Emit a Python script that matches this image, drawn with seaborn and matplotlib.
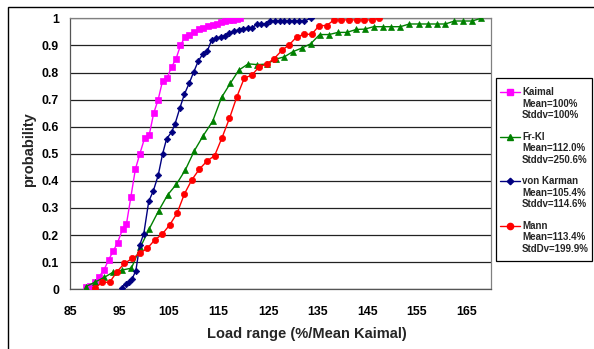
import matplotlib
matplotlib.use("Agg")
import matplotlib.pyplot as plt
import seaborn as sns
import pandas as pd
from matplotlib.lines import Line2D
from matplotlib.patches import Rectangle

# ---------------- data ----------------
kaimal_x = [88.3, 89.1, 90.0, 90.9, 91.9, 92.8, 93.7, 94.6, 95.6, 96.4, 97.3, 98.2,
            99.1, 100.1, 101.0, 101.9, 102.8, 103.7, 104.6, 105.5, 106.4, 107.3,
            108.2, 109.1, 110.1, 111.0, 111.9, 112.9, 113.8, 114.6, 115.4, 116.3,
            117.1, 117.9, 118.7, 119.4]
kaimal_y = [0.01, 0.012, 0.027, 0.047, 0.073, 0.109, 0.14, 0.172, 0.221, 0.241,
            0.342, 0.443, 0.50, 0.56, 0.57, 0.65, 0.70, 0.77, 0.78, 0.82, 0.85,
            0.90, 0.93, 0.94, 0.95, 0.96, 0.965, 0.97, 0.975, 0.98, 0.988, 0.99,
            0.992, 0.995, 0.998, 1.0]

frkl_x = [88.2, 90.0, 91.9, 93.7, 95.5, 97.4, 99.2, 101.0, 102.9, 104.7, 106.5,
          108.3, 110.1, 111.9, 113.8, 115.6, 117.4, 119.1, 121.0, 122.8, 124.7,
          126.5, 128.3, 130.0, 131.8, 133.6, 135.4, 137.3, 139.1, 140.9, 142.8,
          144.5, 146.3, 148.1, 149.9, 151.7, 153.5, 155.4, 157.2, 159.0, 160.8,
          162.6, 164.4, 166.2, 168.0]
frkl_y = [0.01, 0.026, 0.044, 0.063, 0.071, 0.078, 0.155, 0.223, 0.29, 0.348,
          0.388, 0.441, 0.511, 0.567, 0.62, 0.708, 0.761, 0.809, 0.832, 0.829,
          0.831, 0.849, 0.858, 0.877, 0.89, 0.906, 0.94, 0.94, 0.948, 0.948,
          0.959, 0.96, 0.969, 0.969, 0.969, 0.969, 0.979, 0.979, 0.979, 0.979,
          0.979, 0.99, 0.99, 0.99, 1.0]

vk_x = [95.4, 96.3, 96.9, 97.5, 98.3, 99.1, 99.9, 100.9, 101.8, 102.8, 103.7,
        104.5, 105.5, 106.2, 107.2, 108.1, 109.1, 110.0, 110.9, 111.8, 112.7,
        113.6, 114.5, 115.4, 116.3, 117.2, 118.2, 119.1, 120.0, 120.9, 121.8,
        122.7, 123.6, 124.5, 125.4, 126.3, 127.3, 128.3, 129.3, 130.3, 131.3,
        132.3, 133.6]
vk_y = [0.006, 0.02, 0.027, 0.037, 0.069, 0.165, 0.205, 0.325, 0.362, 0.42, 0.50,
        0.555, 0.58, 0.61, 0.67, 0.72, 0.762, 0.803, 0.842, 0.868, 0.878, 0.92,
        0.926, 0.932, 0.935, 0.945, 0.952, 0.958, 0.962, 0.963, 0.965, 0.978,
        0.98, 0.98, 0.99, 0.99, 0.99, 0.99, 0.99, 0.99, 0.99, 0.99, 1.0]

mann_x = [90.0, 91.5, 93.0, 94.5, 96.0, 97.6, 99.1, 100.6, 102.1, 103.6, 105.1,
          106.6, 108.1, 109.6, 111.1, 112.7, 114.2, 115.7, 117.2, 118.7, 120.2,
          121.7, 123.2, 124.7, 126.2, 127.8, 129.3, 130.8, 132.3, 133.8, 135.3,
          136.8, 138.3, 139.8, 141.3, 142.9, 144.4, 145.9, 147.4]
mann_y = [0.004, 0.026, 0.026, 0.065, 0.096, 0.114, 0.133, 0.151, 0.182, 0.203,
          0.237, 0.28, 0.352, 0.404, 0.443, 0.474, 0.493, 0.56, 0.631, 0.711,
          0.78, 0.79, 0.821, 0.831, 0.851, 0.882, 0.903, 0.932, 0.941, 0.941,
          0.973, 0.973, 0.994, 0.994, 0.994, 0.994, 0.994, 0.994, 1.0]

series_names = ["Kaimal", "Fr-Kl", "von Karman", "Mann"]
series_stats = [["Mean=100%", "Stddv=100%"],
                ["Mean=112.0%", "Stddv=250.6%"],
                ["Mean=105.4%", "Stddv=114.6%"],
                ["Mean=113.4%", "StdDv=199.9%"]]
x_ticks = [85, 95, 105, 115, 125, 135, 145, 155, 165]
y_ticks = [0, 0.1, 0.2, 0.3, 0.4, 0.5, 0.6, 0.7, 0.8, 0.9, 1]
y_ticklabels = ["0", "0.1", "0.2", "0.3", "0.4", "0.5", "0.6", "0.7", "0.8", "0.9", "1"]
x_label = "Load range (%/Mean Kaimal)"
y_label = "probability"

# ---------------- style ----------------
sns.set_style("white")
plt.rcParams["font.family"] = ["Liberation Sans", "DejaVu Sans"]
plt.rcParams["font.weight"] = "bold"

colors = ["#FF00FF", "#008000", "#000080", "#FF0000"]
markers = ["s", "^", "D", "o"]
msizes = [4.0, 4.5, 3.3, 4.5]

W, H = 594, 349
fig = plt.figure(figsize=(W / 100, H / 100), dpi=100)
left, right, top, bottom = 70, 491, 18.3, 289.3
ax = fig.add_axes([left / W, 1 - bottom / H, (right - left) / W, (bottom - top) / H])


def fx(px):
    return px / W


def fy(py):
    return 1 - py / H


# outer chart border
fig.add_artist(Rectangle((fx(8), -0.1), 1.2, fy(7) + 0.1, transform=fig.transFigure,
                         fill=False, edgecolor="black", linewidth=1.0))

frames = []
for name, xs, ys in [("Kaimal", kaimal_x, kaimal_y), ("Fr-Kl", frkl_x, frkl_y),
                     ("von Karman", vk_x, vk_y), ("Mann", mann_x, mann_y)]:
    frames.append(pd.DataFrame({"x": xs, "y": ys, "series": name}))
df = pd.concat(frames, ignore_index=True)

for name, c, m, ms in zip(series_names, colors, markers, msizes):
    sub = df[df["series"] == name]
    sns.lineplot(data=sub, x="x", y="y", ax=ax, color=c, marker=m, markersize=ms,
                 markeredgecolor=c, markeredgewidth=0.5, linewidth=1.0, sort=False,
                 estimator=None, legend=False, zorder=3)

ax.set_xlim(85, 170)
ax.set_ylim(0, 1)
ax.set_xticks(x_ticks)
ax.set_yticks(y_ticks)
ax.set_yticklabels(y_ticklabels)
ax.tick_params(axis="both", labelsize=8.8, direction="out", length=4, width=0.8,
               colors="black")
ax.tick_params(axis="x", pad=8)
ax.tick_params(axis="y", pad=4)
for lab in ax.get_xticklabels() + ax.get_yticklabels():
    lab.set_fontweight("bold")
ax.grid(axis="y", color="#222222", linewidth=0.9)
ax.grid(axis="x", visible=False)
ax.set_axisbelow(True)
for s in ["top", "right"]:
    ax.spines[s].set_color("#808080")
    ax.spines[s].set_linewidth(0.9)
for s in ["left", "bottom"]:
    ax.spines[s].set_color("#555555")
    ax.spines[s].set_linewidth(0.9)

ax.set_xlabel(x_label, fontsize=10.5, fontweight="bold")
ax.xaxis.set_label_coords((307 - left) / (right - left), -0.14)
ax.set_ylabel(y_label, fontsize=10.5, fontweight="bold")
ax.yaxis.set_label_coords((36 - left) / (right - left), 0.514)

# ---------------- legend (drawn in figure pixels) ----------------
fig.add_artist(Rectangle((fx(496), fy(261)), fx(592) - fx(496), fy(78) - fy(261),
                         transform=fig.transFigure, facecolor="white",
                         edgecolor="black", linewidth=0.9, zorder=5))
group_y = [92, 136.7, 181, 225.7]
line_pitch = 11.6
for i, (name, c, m, ms) in enumerate(zip(series_names, colors, markers, msizes)):
    gy = group_y[i]
    fig.add_artist(Line2D([fx(500), fx(520)], [fy(gy), fy(gy)], transform=fig.transFigure,
                          color=c, linewidth=1.0, zorder=6))
    fig.add_artist(Line2D([fx(510)], [fy(gy)], transform=fig.transFigure, color=c,
                          marker=m, markersize=ms, markeredgecolor=c, linestyle="none",
                          zorder=7))
    lines = [name] + series_stats[i]
    for j, t in enumerate(lines):
        fig.text(fx(522), fy(gy + j * line_pitch), t, ha="left", va="center",
                 fontsize=7.0, fontweight="bold", zorder=7)

fig.savefig("out.png", dpi=100)
